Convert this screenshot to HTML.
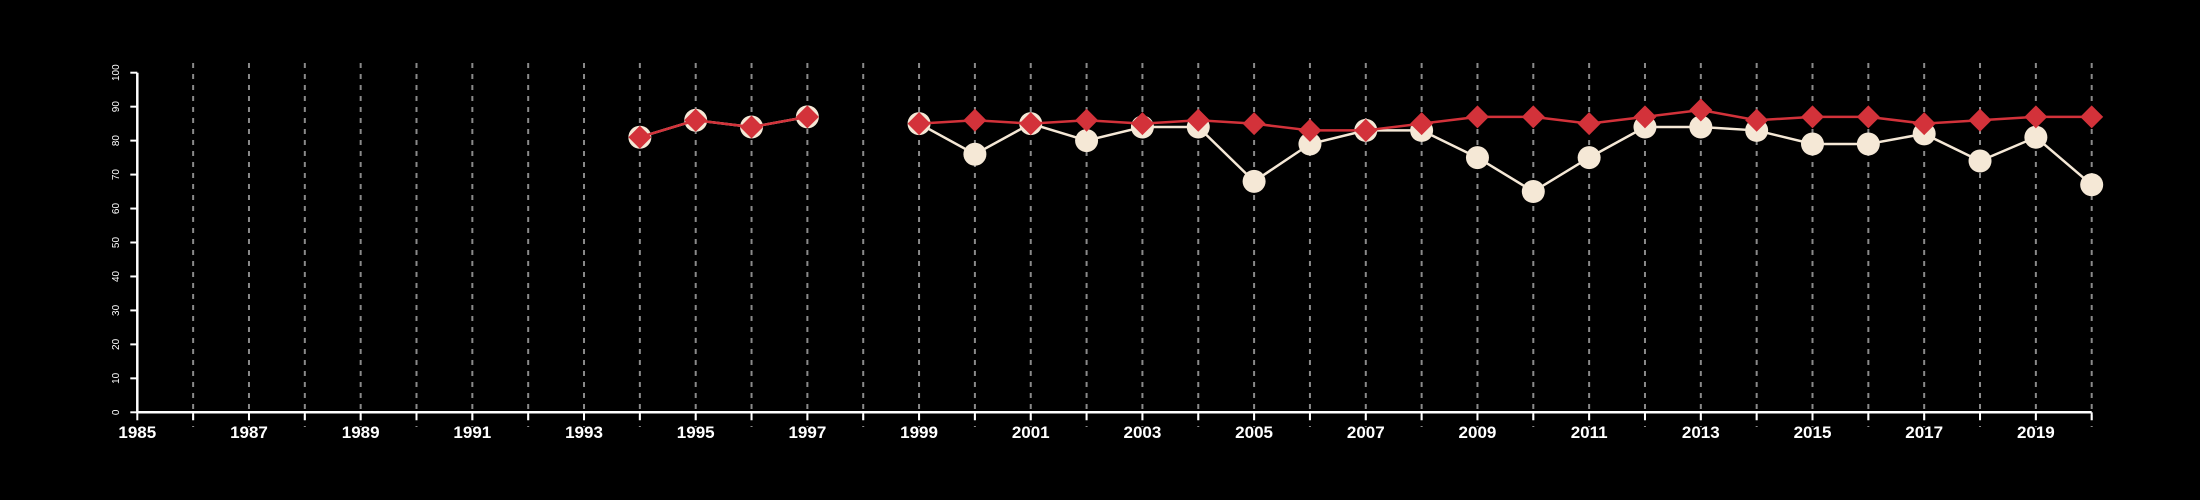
<!DOCTYPE html>
<html><head><meta charset="utf-8"><style>
html,body{margin:0;padding:0;background:#000;width:2200px;height:500px;overflow:hidden}
svg{display:block}
</style></head><body>
<svg id="chart" width="2200" height="500" xmlns="http://www.w3.org/2000/svg">
<rect width="2200" height="500" fill="#000"/>
<g id="grid"></g><g id="axes"></g><g id="series"></g>
</svg>
<script>
const years = [1994,1995,1996,1997,1998,1999,2000,2001,2002,2003,2004,2005,2006,2007,2008,2009,2010,2011,2012,2013,2014,2015,2016,2017,2018,2019,2020];
const creamValues = [81,86,84,87,null,85,76,85,80,84,84,68,79,83,83,75,65,75,84,84,83,79,79,82,74,81,67];
const redValues = [81,86,84,87,null,85,86,85,86,85,86,85,83,83,85,87,87,85,87,89,86,87,87,85,86,87,87];
const yTicks = [0,10,20,30,40,50,60,70,80,90,100];
const xLabelYears = [1985,1987,1989,1991,1993,1995,1997,1999,2001,2003,2005,2007,2009,2011,2013,2015,2017,2019];

const NS='http://www.w3.org/2000/svg';
const X0=137.3, X1=2091.7, Y0=412.3, Y1=72.7;
const xs = y => X0 + (y-1985)*(X1-X0)/35;
const ys = v => Y0 - v*(Y0-Y1)/100;
function mk(tag, attrs, parent){const e=document.createElementNS(NS,tag);for(const k in attrs)e.setAttribute(k,attrs[k]);parent.appendChild(e);return e;}
const grid=document.getElementById('grid'), axes=document.getElementById('axes'), series=document.getElementById('series');

for(let y=1986;y<=2020;y++){
  const l=mk('line',{x1:xs(y),x2:xs(y),y1:63,y2:427,stroke:'#8a8a8a','stroke-width':2,'stroke-dasharray':'5,6'},grid);
  
  
}
const xa=mk('line',{x1:X0,x2:X1,y1:Y0,y2:Y0,stroke:'#fff','stroke-width':2.5},axes);


const ya=mk('line',{x1:X0,x2:X0,y1:Y0,y2:Y1,stroke:'#fff','stroke-width':2.5},axes);


for(let y=1985;y<=2020;y++){
  const t=mk('line',{x1:xs(y),x2:xs(y),y1:Y0,y2:Y0+8,stroke:'#fff','stroke-width':2},axes);
  
  
}
xLabelYears.forEach(y=>{
  const t=mk('text',{x:xs(y),y:438,fill:'#fff','font-family':'Liberation Sans, sans-serif','font-size':17,'font-weight':'bold','text-anchor':'middle'},axes);
  t.textContent=y;
  
  
});
yTicks.forEach(v=>{
  const t=mk('line',{x1:X0-7,x2:X0,y1:ys(v),y2:ys(v),stroke:'#fff','stroke-width':2},axes);
  
  
  const lb=mk('text',{x:0,y:0,fill:'#fff','font-family':'Liberation Sans, sans-serif','font-size':10,'text-anchor':'middle',transform:`translate(119,${ys(v)}) rotate(-90)`},axes);
  lb.textContent=v;
  
  
});
function drawLine(vals,color,w,name){
  let seg=[];
  const segs=[];
  vals.forEach((v,i)=>{if(v==null){if(seg.length)segs.push(seg);seg=[];}else seg.push([xs(years[i]),ys(v)]);});
  if(seg.length)segs.push(seg);
  segs.forEach(s=>{
    const p=mk('polyline',{points:s.map(q=>q.join(',')).join(' '),fill:'none',stroke:color,'stroke-width':w},series);
    
    
  });
}
drawLine(creamValues,'#f5e8d6',2.5,'cream-series-line');
creamValues.forEach((v,i)=>{if(v==null)return;
  const c=mk('circle',{cx:xs(years[i]),cy:ys(v),r:11.5,fill:'#f5e8d6'},series);
  
  
});
drawLine(redValues,'#d3323a',2.5,'red-series-line');
redValues.forEach((v,i)=>{if(v==null)return;
  const x=xs(years[i]),y=ys(v),r=11.5;
  const d=mk('polygon',{points:`${x},${y-r} ${x+r},${y} ${x},${y+r} ${x-r},${y}`,fill:'#d3323a'},series);
  
  
});
</script>
</body></html>
